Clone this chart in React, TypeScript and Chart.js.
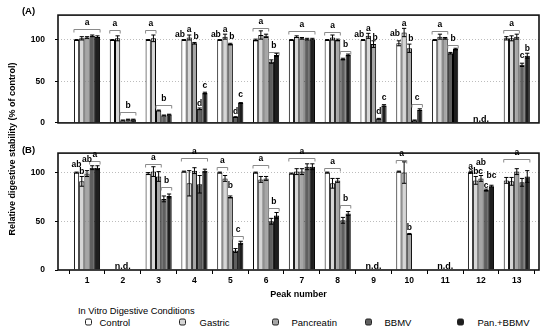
import React, { useEffect, useRef } from 'react';
import { Chart, registerables } from 'chart.js';

Chart.register(...registerables);

const FONT = '"Liberation Sans", Arial, Helvetica, sans-serif';

const PEAKS = [1, 2, 3, 4, 5, 6, 7, 8, 9, 10, 11, 12, 13];
const SERIES = ['Control', 'Gastric', 'Pancreatin', 'BBMV', 'Pan.+BBMV'];
const COLORS = ['#ffffff', '#d6d6d6', '#a6a6a6', '#5f5f5f', '#1e1e1e'];
const Y_TICKS = [0, 50, 100];

// Panel (A)
const A_CONTROL = [100, 100, 100, 100, 100, 100, 100, 100, 100, 96, 100, null, 102];
const A_GASTRIC = [102, 102, 102, 103, 104, 106, 104, 103, 105, 109, 104, null, 102];
const A_PANCREATIN = [103, 3, 15, 96, 95, 105, 102, 100, 95, 90, 102, null, 104];
const A_BBMV = [105, 4, 9, 17, 7, 74, 101, 77, 5, 3, 84, null, 70];
const A_PANBBMV = [104, 4, 10, 36, 24, 82, 101, 82, 21, 16, 89, null, 81];

const A_CONTROL_ERR = [0.5, 0.5, 0.5, 0.5, 0.5, 1, 0.5, 0.5, 0.5, 3, 0.5, null, 2];
const A_GASTRIC_ERR = [2, 3, 4, 3, 3, 5, 1, 3, 3, 5, 3, null, 3];
const A_PANCREATIN_ERR = [1, 0.5, 0.5, 1, 1, 2, 1, 1, 4, 5, 1, null, 3];
const A_BBMV_ERR = [1, 0.5, 0.5, 1, 0.5, 2, 1, 1, 0.5, 0.5, 1, null, 2];
const A_PANBBMV_ERR = [1, 0.5, 0.5, 1, 0.5, 2, 1, 1, 1, 1, 1, null, 3];

// [peak, fromSeries, toSeries, value, label]
const A_BRACKETS: [number, number, number, number, string][] = [
  [1, 0, 4, 113, 'a'], [2, 0, 1, 112, 'a'], [2, 2, 4, 13, 'b'], [3, 0, 1, 112, 'a'],
  [3, 2, 4, 22, 'b'], [6, 0, 2, 114, 'a'], [6, 3, 4, 86, 'b'], [7, 0, 4, 111, 'a'],
  [8, 0, 2, 110, 'a'], [8, 3, 4, 87, 'b'], [10, 3, 4, 23, 'c'], [11, 0, 2, 111, 'a'],
  [11, 3, 4, 94, 'b'], [13, 0, 2, 112, 'a'],
];
// [peak, series, value, label, align]
const A_LETTERS: [number, number, number, string, string][] = [
  [4, 0, 107, 'ab', 'right'], [4, 1, 113, 'a', 'center'], [4, 2, 104, 'b', 'left'], [4, 3, 23, 'd', 'center'], [4, 4, 45, 'c', 'center'],
  [5, 0, 107, 'ab', 'right'], [5, 1, 113, 'a', 'center'], [5, 2, 104, 'b', 'left'], [5, 3, 14, 'd', 'center'], [5, 4, 34, 'c', 'center'],
  [9, 0, 107, 'ab', 'right'], [9, 1, 114, 'a', 'center'], [9, 2, 103, 'b', 'left'], [9, 3, 13, 'd', 'center'], [9, 4, 31, 'c', 'center'],
  [10, 0, 108, 'ab', 'right'], [10, 1, 120, 'a', 'center'], [10, 2, 102, 'b', 'left'],
  [13, 3, 81, 'c', 'center'], [13, 4, 90, 'b', 'center'],
];
// [peak, value]
const A_ND: [number, number][] = [[12, 4]];

// Panel (B)
const B_CONTROL = [100, null, 99, 101, 100, 100, 99, 100, null, 101, null, 100, 92];
const B_GASTRIC = [91, null, 101, 89, 94, 93, 101, 89, null, 100, null, 92, 91];
const B_PANCREATIN = [99, null, 96, 102, 75, 94, 101, 92, null, 37, null, 94, 101];
const B_BBMV = [105, null, 73, 88, 20, 50, 106, 51, null, null, null, 82, 90];
const B_PANBBMV = [105, null, 76, 102, 28, 56, 106, 58, null, null, null, 86, 96];

const B_CONTROL_ERR = [0.5, null, 1, 0.5, 0.5, 0.5, 0.5, 0.5, null, 0.5, null, 0.5, 3];
const B_GASTRIC_ERR = [5, null, 5, 13, 3, 3, 3, 5, null, 11, null, 4, 4];
const B_PANCREATIN_ERR = [3, null, 5, 3, 1, 2, 3, 2, null, 0.5, null, 3, 3];
const B_BBMV_ERR = [2, null, 3, 9, 2, 3, 3, 3, null, null, null, 1, 4];
const B_PANBBMV_ERR = [2, null, 2, 1.5, 1.5, 3, 3, 2, null, null, null, 1, 6];

const B_BRACKETS: [number, number, number, number, string][] = [
  [1, 3, 4, 112, 'a'], [3, 0, 2, 109, 'a'], [3, 3, 4, 85, 'b'], [4, 0, 4, 115, 'a'],
  [5, 0, 1, 106, 'a'], [5, 3, 4, 35, 'c'], [6, 0, 2, 108, 'a'], [6, 3, 4, 64, 'b'],
  [7, 0, 4, 115, 'a'], [8, 0, 2, 105, 'a'], [8, 3, 4, 67, 'b'], [10, 0, 1, 113, 'a'],
  [13, 0, 4, 114, 'a'],
];
const B_LETTERS: [number, number, number, string, string][] = [
  [1, 0, 108, 'ab', 'center'], [1, 1, 101, 'b', 'center'], [1, 2, 113, 'ab', 'center'],
  [5, 2, 87, 'b', 'center'], [10, 2, 43, 'b', 'center'],
  [12, 0, 106, 'a', 'center'], [12, 1, 101, 'abc', 'center'], [12, 2, 110, 'ab', 'center'],
  [12, 3, 87, 'c', 'center'], [12, 4, 97, 'bc', 'center'],
];
const B_ND: [number, number][] = [[2, 3.5], [9, 3.5], [11, 3.5]];

const A_VALUES = [A_CONTROL, A_GASTRIC, A_PANCREATIN, A_BBMV, A_PANBBMV];
const A_ERRORS = [A_CONTROL_ERR, A_GASTRIC_ERR, A_PANCREATIN_ERR, A_BBMV_ERR, A_PANBBMV_ERR];
const B_VALUES = [B_CONTROL, B_GASTRIC, B_PANCREATIN, B_BBMV, B_PANBBMV];
const B_ERRORS = [B_CONTROL_ERR, B_GASTRIC_ERR, B_PANCREATIN_ERR, B_BBMV_ERR, B_PANBBMV_ERR];

const X_MIN = 0.19;
const X_MAX = 13.62;

function decorPlugin(
  errors: (number | null)[][],
  brackets: [number, number, number, number, string][],
  letters: [number, number, number, string, string][],
  nd: [number, number][]
) {
  return {
    id: 'decor',
    afterDatasetsDraw(chart: any) {
      const ctx = chart.ctx as CanvasRenderingContext2D;
      const area = chart.chartArea;
      const ys = chart.scales.y;
      const xs = chart.scales.x;
      const barAt = (s: number, peak: number) => chart.getDatasetMeta(s).data[PEAKS.indexOf(peak)] as any;
      ctx.save();
      // error bars
      ctx.strokeStyle = '#000';
      ctx.lineWidth = 1;
      errors.forEach((errs, s) => {
        const vals = chart.data.datasets[s].data;
        errs.forEach((e, j) => {
          const v = vals[j];
          if (v == null || e == null) return;
          const bar = chart.getDatasetMeta(s).data[j] as any;
          const x = bar.x;
          const hw = Math.max(bar.width / 2 - 0.5, 1.5);
          const yt = ys.getPixelForValue(v + e);
          const yb = ys.getPixelForValue(v - e);
          ctx.beginPath();
          ctx.moveTo(x, yt); ctx.lineTo(x, yb);
          ctx.moveTo(x - hw, yt); ctx.lineTo(x + hw, yt);
          ctx.moveTo(x - hw, yb); ctx.lineTo(x + hw, yb);
          ctx.stroke();
        });
      });
      // frame
      ctx.lineWidth = 1.6;
      ctx.strokeStyle = '#111';
      ctx.strokeRect(area.left, area.top, area.right - area.left, area.bottom - area.top);
      // brackets
      ctx.font = `bold 8.5px ${FONT}`;
      ctx.fillStyle = '#000';
      ctx.textBaseline = 'middle';
      brackets.forEach(([peak, s1, s2, val, label]) => {
        const b1 = barAt(s1, peak);
        const b2 = barAt(s2, peak);
        const x1 = b1.x - b1.width / 2;
        const x2 = b2.x + b2.width / 2;
        const y = Math.round(ys.getPixelForValue(val)) + 0.5;
        ctx.strokeStyle = '#8a8a8a';
        ctx.lineWidth = 1;
        ctx.beginPath();
        ctx.moveTo(x1, y + 3); ctx.lineTo(x1, y); ctx.lineTo(x2, y); ctx.lineTo(x2, y + 3);
        ctx.stroke();
        ctx.textAlign = 'center';
        ctx.fillText(label, (x1 + x2) / 2, y - 6.5);
      });
      // letters
      letters.forEach(([peak, s, val, label, align]) => {
        const b = barAt(s, peak);
        const y = ys.getPixelForValue(val);
        let x = b.x;
        if (align === 'right') { ctx.textAlign = 'right'; x = b.x + 1; }
        else if (align === 'left') { ctx.textAlign = 'left'; x = b.x - 1; }
        else ctx.textAlign = 'center';
        ctx.fillText(label, x, y);
      });
      // n.d.
      ctx.font = `bold 9px ${FONT}`;
      ctx.textAlign = 'center';
      nd.forEach(([peak, val]) => {
        ctx.fillText('n.d.', xs.getPixelForValue(peak), ys.getPixelForValue(val));
      });
      ctx.restore();
    },
  };
}

function makeConfig(
  values: (number | null)[][],
  errors: (number | null)[][],
  brackets: [number, number, number, number, string][],
  letters: [number, number, number, string, string][],
  nd: [number, number][],
  yMax: number,
  showX: boolean
): any {
  const tickFont = { family: FONT, size: 8.5, weight: 'bold' as const };
  return {
    type: 'bar',
    data: {
      labels: PEAKS,
      datasets: SERIES.map((name, i) => ({
        label: name,
        data: values[i],
        backgroundColor: COLORS[i],
        borderColor: '#000',
        borderWidth: 1,
        categoryPercentage: 0.73,
        barPercentage: 1,
      })),
    },
    options: {
      responsive: false,
      animation: false,
      devicePixelRatio: 1,
      layout: { padding: showX ? { top: 6, right: 11, bottom: 0, left: 0 } : { top: 5, right: 11, bottom: 7, left: 0 } },
      plugins: { legend: { display: false }, tooltip: { enabled: false }, title: { display: false } },
      scales: {
        x: {
          type: 'linear',
          min: X_MIN,
          max: X_MAX,
          offset: false,
          display: showX,
          afterBuildTicks: (s: any) => { s.ticks = PEAKS.map((v) => ({ value: v })); },
          afterFit: (s: any) => { if (showX) s.height = 33; },
          grid: { display: true, drawOnChartArea: false, drawTicks: true, tickLength: 4, offset: true, color: '#000', tickColor: '#000', lineWidth: 1 },
          border: { display: false },
          ticks: { font: tickFont, color: '#000', padding: 2, maxRotation: 0, autoSkip: false, callback: (v: any) => String(v) },
          title: { display: true, text: 'Peak number', color: '#000', font: { family: FONT, size: 9, weight: 'bold' }, padding: { top: 0, bottom: 3.5 } },
        },
        y: {
          min: 0,
          max: yMax,
          afterBuildTicks: (s: any) => { s.ticks = Y_TICKS.map((v) => ({ value: v })); },
          afterFit: (s: any) => { s.width = 58; },
          grid: {
            color: (c: any) => (c.tick && c.tick.value === 0 ? 'rgba(0,0,0,0)' : '#bdbdbd'),
            tickColor: '#000',
            tickLength: 3,
            drawTicks: true,
            lineWidth: 1,
            tickBorderDash: [],
          },
          border: { display: false, dash: [1, 2] },
          ticks: { font: tickFont, color: '#000', padding: 10 },
        },
      },
    },
    plugins: [decorPlugin(errors, brackets, letters, nd)],
  };
}

export default function App() {
  const refA = useRef<HTMLCanvasElement | null>(null);
  const refB = useRef<HTMLCanvasElement | null>(null);

  useEffect(() => {
    const ca = new Chart(refA.current as HTMLCanvasElement, makeConfig(A_VALUES, A_ERRORS, A_BRACKETS, A_LETTERS, A_ND, 130, false));
    const cb = new Chart(refB.current as HTMLCanvasElement, makeConfig(B_VALUES, B_ERRORS, B_BRACKETS, B_LETTERS, B_ND, 120, true));
    return () => { ca.destroy(); cb.destroy(); };
  }, []);

  const legendItems = [
    { box: 84.5, text: 99.5 },
    { box: 178.5, text: 199.5 },
    { box: 272, text: 291.5 },
    { box: 364.5, text: 384.5 },
    { box: 457, text: 477.5 },
  ];

  return (
    <div style={{ position: 'absolute', left: 0, top: 0, width: 550, height: 328, background: '#fff', fontFamily: FONT, color: '#000', overflow: 'hidden' }}>
      <canvas ref={refA} width={550} height={138} style={{ position: 'absolute', left: 0, top: 0 }} />
      <canvas ref={refB} width={550} height={165} style={{ position: 'absolute', left: 0, top: 138 }} />
      <div style={{ position: 'absolute', left: 28.5, top: 9.5, transform: 'translate(-50%,-50%)', fontWeight: 'bold', fontSize: 9.5, whiteSpace: 'nowrap' }}>(A)</div>
      <div style={{ position: 'absolute', left: 28.5, top: 148.5, transform: 'translate(-50%,-50%)', fontWeight: 'bold', fontSize: 9.5, whiteSpace: 'nowrap' }}>(B)</div>
      <div style={{ position: 'absolute', left: 12, top: 149, transform: 'translate(-50%,-50%) rotate(-90deg)', fontWeight: 'bold', fontSize: 9, whiteSpace: 'nowrap' }}>
        Relative digestive stability (% of control)
      </div>
      <div style={{ position: 'absolute', left: 78, top: 311, transform: 'translateY(-50%)', fontSize: 9.3, whiteSpace: 'nowrap', lineHeight: '11px' }}>
        In Vitro Digestive Conditions
      </div>
      {SERIES.map((name, i) => (
        <React.Fragment key={name}>
          <div style={{ position: 'absolute', left: legendItems[i].box, top: 321.5, width: 7, height: 7, transform: 'translateY(-50%)', background: COLORS[i], border: '1px solid #222', borderRadius: 2, boxSizing: 'border-box' }} />
          <div style={{ position: 'absolute', left: legendItems[i].text, top: 321.5, transform: 'translateY(-50%)', fontSize: 9.5, whiteSpace: 'nowrap', lineHeight: '11px' }}>{name}</div>
        </React.Fragment>
      ))}
    </div>
  );
}
